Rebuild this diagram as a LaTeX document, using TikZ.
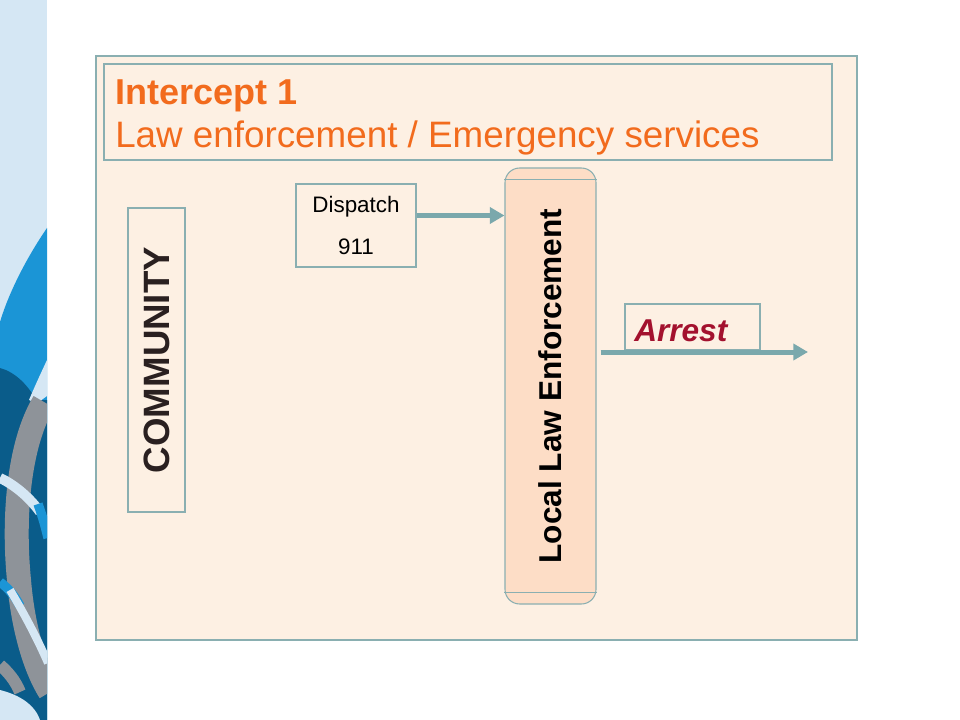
\documentclass[tikz,border=0pt]{standalone}
\usepackage{fontspec}
\setmainfont{Liberation Sans}
\usetikzlibrary{arrows.meta}
\definecolor{stripblue}{HTML}{D5E7F4}
\definecolor{brightblue}{HTML}{1B95D6}
\definecolor{darkblue}{HTML}{0A5C8A}
\definecolor{wavegray}{HTML}{8E9399}
\definecolor{paper}{HTML}{FDF0E3}
\definecolor{frame}{HTML}{8AAFB1}
\definecolor{peach}{HTML}{FDDDC6}
\definecolor{teal}{HTML}{7AA8AC}
\definecolor{titleorange}{HTML}{F26B1D}
\definecolor{arrestred}{HTML}{A3112E}
\definecolor{darktext}{HTML}{2A2020}
\begin{document}
\begin{tikzpicture}[x=0.75pt, y=-0.75pt,
  box/.style={draw=frame, line width=0.8pt, fill=paper, inner sep=0pt},
  flow/.style={draw=teal, line width=3.75pt, -{Triangle[length=11pt,width=12pt]}}]
\useasboundingbox (0,0) rectangle (960,720);
\fill[white] (0,0) rectangle (960,720);
% side strip
\begin{scope}
\clip (0,0) rectangle (47,720);
\fill[stripblue] (0,0) rectangle (47,720);
\fill[brightblue] (47,228) .. controls (25,260) and (8,295) .. (0,322) -- (0,720) -- (47,720) -- cycle;
\fill[darkblue] (0,368) .. controls (15,372) and (28,385) .. (36,400) -- (47,400) -- (47,720) -- (0,720) -- cycle;
\fill[stripblue] (47,360) .. controls (40,375) and (34,388) .. (29,400) -- (38,404) .. controls (41,400) and (44,398) .. (47,396) -- cycle;
\draw[wavegray, line width=18pt] (44,402) .. controls (18,445) and (13,520) .. (19,580) .. controls (23,630) and (36,670) .. (50,692);
\draw[stripblue, line width=7.5pt] (0,478) .. controls (15,485) and (30,498) .. (40,512);
\draw[brightblue, line width=7pt] (38,504) .. controls (42,515) and (45,525) .. (48,538);
\draw[brightblue, line width=7pt] (0,582) .. controls (8,588) and (15,596) .. (20,606);
\draw[stripblue, line width=6pt] (10,590) .. controls (25,615) and (38,640) .. (48,663);
\draw[wavegray, line width=9pt] (0,665) .. controls (8,672) and (15,680) .. (20,692);
\fill[stripblue] (0,690) .. controls (20,695) and (35,705) .. (40,720) -- (0,720) -- cycle;
\end{scope}
% frame and title
\draw[frame, fill=paper, line width=1.6pt] (96,56) rectangle (857,640);
\draw[frame, line width=0.8pt] (104,64) rectangle (832,160);
\node[anchor=base west, inner sep=0pt, text=titleorange, font=\fontsize{27}{32}\selectfont\bfseries] (title) at (115,105) {Intercept 1};
\node[anchor=base west, inner sep=0pt, text=titleorange, font=\fontsize{27.6}{32}\selectfont] (subtitle) at (115,148) {Law enforcement / Emergency services};
% boxes
\node[box, minimum width=42.75pt, minimum height=228pt] (community) at (156.5,360) {};
\node[rotate=90, text=darktext, font=\fontsize{27.5}{32}\selectfont\bfseries] (communitytext) at (community.center) {COMMUNITY};
\node[box, minimum width=90pt, minimum height=62.25pt, align=center, font=\fontsize{16.8}{20}\selectfont] (dispatch) at (356,225.5) {Dispatch\\[12pt]911};
\node[box, fill=peach, rounded corners=11pt, minimum width=68.25pt, minimum height=327pt] (lle) at (550.5,386) {};
\draw[frame, line width=0.8pt] ([yshift=-9pt]lle.north west) -- ([yshift=-9pt]lle.north east);
\draw[frame, line width=0.8pt] ([yshift=9pt]lle.south west) -- ([yshift=9pt]lle.south east);
\node[rotate=90, font=\fontsize{23.7}{28}\selectfont\bfseries] (lletext) at (lle.center) {Local Law Enforcement};
\node[box, minimum width=101.25pt, minimum height=34.5pt] (arrest) at (692.5,327) {};
\node[anchor=base west, inner sep=0pt, text=arrestred, font=\fontsize{23.7}{28}\selectfont\bfseries\itshape] (arresttext) at (634,341) {Arrest};
% connectors
\coordinate (exit) at (808,352);
\draw[flow] ([yshift=7.5pt]dispatch.east) -- ([yshift=7.5pt]dispatch.east -| lle.west);
\draw[flow] ([xshift=3pt]lle.east |- exit) -- (exit);
\end{tikzpicture}
\end{document}
